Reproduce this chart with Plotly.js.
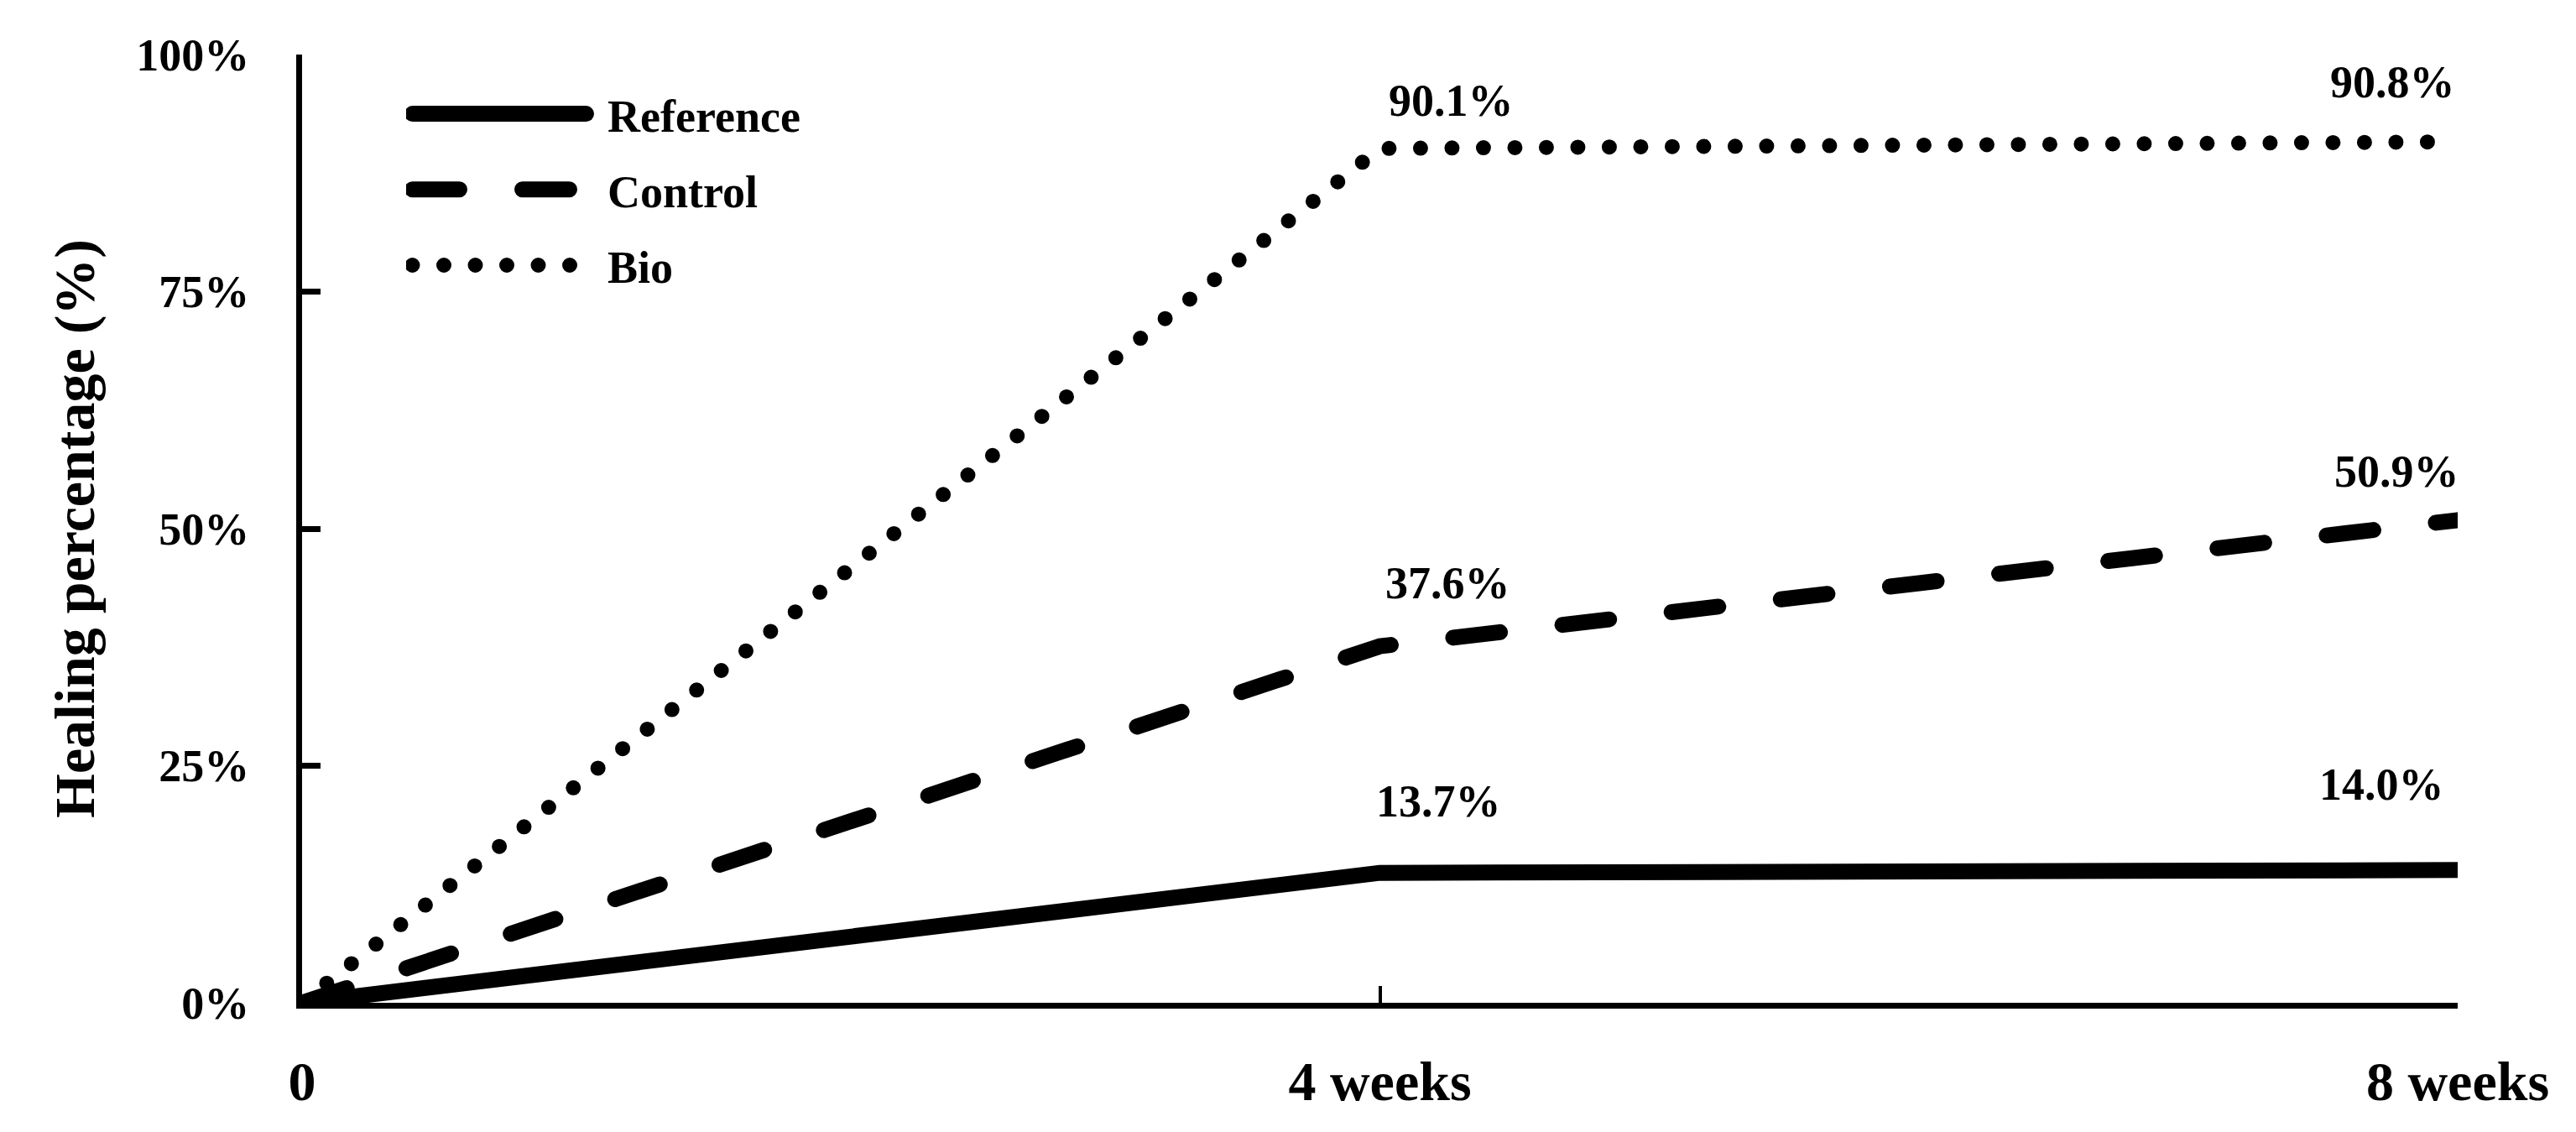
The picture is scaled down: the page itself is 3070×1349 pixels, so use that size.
<!DOCTYPE html>
<html><head><meta charset="utf-8">
<script src="https://cdn.plot.ly/plotly-3.0.1.min.js"></script>
<style>
html,body{margin:0;padding:0;background:#fff}
#chart{width:3070px;height:1349px}
.js-line{stroke-linecap:round}
</style></head><body><div id="chart"></div>
<script>
// ---- data ----
const timepoints = ['0', '4 weeks', '8 weeks'];
const seriesNames = ['Reference', 'Control', 'Bio'];
const referenceValues = [0, 13.7, 14.0];
const controlValues = [0, 37.6, 50.9];
const bioValues = [0, 90.1, 90.8];
const yTickValues = [0, 25, 50, 75, 100];
const yTickLabels = ['0%', '25%', '50%', '75%', '100%'];

// ---- styles ----
const FONT = 'Liberation Serif, Times New Roman, serif';
const seriesValues = [referenceValues, controlValues, bioValues];
const lineStyles = [
  {width: 19, dash: 'solid'},
  {width: 19, dash: '56px,75px'},
  {width: 18, dash: '0px,37.5px'}
];
// label offsets (px) from each point (index 1 and 2)
const labelShift = [
  [null, [70, 85], [-91, 102]],
  [null, [81, 75], [-73, 58]],
  [null, [85, 57], [-78, 71]]
];

const M = {l: 360, r: 141, t: 65, b: 154};
const W = 3070, H = 1349;
const plotW = W - M.l - M.r, plotH = H - M.t - M.b;

const traces = seriesNames.map((name, i) => ({
  type: 'scatter', mode: 'lines', name: name,
  x: timepoints, y: seriesValues[i],
  legendgroup: 'g' + i,
  line: {color: '#000', width: lineStyles[i].width, dash: lineStyles[i].dash},
  hoverinfo: 'skip'
}));

const annotations = [];
seriesValues.forEach((vals, i) => {
  vals.forEach((v, j) => {
    if (j === 0) return;
    annotations.push({
      x: timepoints[j], y: v, xref: 'x', yref: 'y',
      text: v.toFixed(1) + '%', showarrow: false,
      xanchor: 'center', yanchor: 'middle',
      xshift: labelShift[i][j][0], yshift: labelShift[i][j][1],
      font: {family: FONT, size: 54, color: '#000', weight: 'bold'}
    });
  });
});

const layout = {
  width: W, height: H,
  paper_bgcolor: '#fff', plot_bgcolor: '#fff',
  margin: M,
  showlegend: true,
  legend: {
    x: (484 - M.l) / plotW, y: 1 - (94 - M.t) / plotH,
    xanchor: 'left', yanchor: 'top',
    bgcolor: 'rgba(0,0,0,0)', borderwidth: 0,
    itemwidth: 230, tracegroupgap: 17, traceorder: 'grouped',
    font: {family: FONT, size: 54, color: '#000', weight: 'bold'}
  },
  xaxis: {
    type: 'category', range: [0, 2],
    showline: true, linewidth: 7, linecolor: '#000',
    ticks: 'inside', ticklen: 20, tickwidth: 4, tickcolor: '#000',
    showgrid: false, zeroline: false,
    ticklabelstandoff: 30,
    tickfont: {family: FONT, size: 66, color: '#000', weight: 'bold'}
  },
  yaxis: {
    range: [0, 100], tickmode: 'array', tickvals: yTickValues, ticktext: yTickLabels,
    showline: true, linewidth: 7, linecolor: '#000',
    ticks: 'inside', ticklen: 22, tickwidth: 7, tickcolor: '#000',
    showgrid: false, zeroline: false,
    ticklabelstandoff: 45,
    tickfont: {family: FONT, size: 54, color: '#000', weight: 'bold'},
    title: {text: 'Healing percentage (%)', standoff: 30,
      font: {family: FONT, size: 68, color: '#000', weight: 'bold'}}
  },
  annotations: annotations
};

Plotly.newPlot('chart', traces, layout, {staticPlot: true, displayModeBar: false}).then(gd => {
  const items = gd.querySelectorAll('.legend .traces');
  items.forEach((g, i) => {
    const p = g.querySelector('path.js-line');
    if (!p) return;
    p.setAttribute('d', 'M7.5,0h207');
    p.style.strokeWidth = lineStyles[i].width + 'px';
    p.style.strokeLinecap = 'round';
  });
});
</script></body></html>
